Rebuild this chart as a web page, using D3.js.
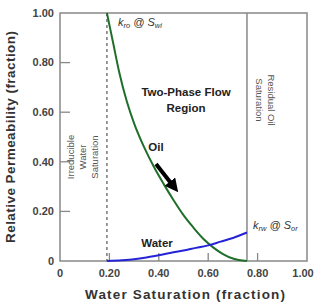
<!DOCTYPE html>
<html><head><meta charset="utf-8">
<script src="https://cdn.jsdelivr.net/npm/d3@7"></script>
<style>body{margin:0;background:#fff}svg{display:block;font-family:"Liberation Sans",Arial,sans-serif}</style>
</head><body>
<script>
const oilSw = [0.19,0.215,0.24,0.27,0.30,0.34,0.38,0.42,0.46,0.50,0.54,0.58,0.62,0.66,0.70,0.757];
const oilKr = [1.0,0.88,0.76,0.645,0.555,0.46,0.38,0.31,0.245,0.185,0.135,0.09,0.055,0.028,0.01,0];
const waterSw = [0.19,0.25,0.30,0.35,0.40,0.45,0.50,0.55,0.60,0.65,0.70,0.757];
const waterKr = [0,0.003,0.007,0.014,0.023,0.033,0.042,0.053,0.063,0.078,0.093,0.115];
const xTicks = [0,0.2,0.4,0.6,0.8,1.0];
const xTickLabels = ["0","0.20","0.40","0.60","0.80","1.00"];
const yTicks = [0,0.2,0.4,0.6,0.8,1.0];
const yTickLabels = ["0","0.20","0.40","0.60","0.80","1.00"];
const swi = 0.19, sor = 0.757;

const W=318,H=304;
const svg=d3.select("body").append("svg").attr("width",W).attr("height",H);
const x=d3.scaleLinear().domain([0,1]).range([60,307]);
const y=d3.scaleLinear().domain([0,1]).range([261,13]);
const gray="#888", txt="#444";

// frame
svg.append("rect").attr("x",x(0)).attr("y",y(1)).attr("width",x(1)-x(0)).attr("height",y(0)-y(1))
  .attr("fill","none").attr("stroke",gray).attr("stroke-width",1.5);

// y ticks inside
yTicks.forEach((t,i)=>{
  if(t>0&&t<1) svg.append("line").attr("x1",x(0)).attr("x2",x(0)+10).attr("y1",y(t)).attr("y2",y(t)).attr("stroke",gray).attr("stroke-width",1.3);
  svg.append("text").attr("x",54).attr("y",y(t)).attr("dy","0.35em").attr("text-anchor","end")
    .attr("font-size",11).attr("font-weight","bold").attr("fill",txt).text(yTickLabels[i]);
});
// x ticks inside
xTicks.forEach((t,i)=>{
  if(t>0&&t<1) svg.append("line").attr("x1",x(t)).attr("x2",x(t)).attr("y1",y(0)).attr("y2",y(0)-8).attr("stroke",gray).attr("stroke-width",1.3);
  svg.append("text").attr("x",x(t)-(t==1?4:0)).attr("y",277).attr("text-anchor","middle")
    .attr("font-size",11).attr("font-weight","bold").attr("fill",txt).text(xTickLabels[i]);
});

// axis titles
svg.append("text").attr("x",185).attr("y",299).attr("text-anchor","middle").attr("font-size",13.5)
  .attr("font-weight","bold").attr("fill","#333").attr("textLength",200).attr("lengthAdjust","spacing")
  .text("Water Saturation (fraction)");
svg.append("text").attr("transform","translate(15,137) rotate(-90)").attr("text-anchor","middle").attr("font-size",13.5)
  .attr("font-weight","bold").attr("fill","#333").attr("textLength",212).attr("lengthAdjust","spacing")
  .text("Relative Permeability (fraction)");

// swi dashed, sor solid
svg.append("line").attr("x1",x(swi)).attr("x2",x(swi)).attr("y1",y(1)).attr("y2",y(0))
  .attr("stroke","#555").attr("stroke-width",1.2).attr("stroke-dasharray","3,3");
svg.append("line").attr("x1",x(sor)).attr("x2",x(sor)).attr("y1",y(1)).attr("y2",y(0))
  .attr("stroke",gray).attr("stroke-width",1.5);

// curves
const line=d3.line().x(d=>x(d[0])).y(d=>y(d[1])).curve(d3.curveMonotoneX);
svg.append("path").attr("d",line(oilSw.map((s,i)=>[s,oilKr[i]]))).attr("fill","none")
  .attr("stroke","#1f6f2a").attr("stroke-width",2);
svg.append("path").attr("d",line(waterSw.map((s,i)=>[s,waterKr[i]]))).attr("fill","none")
  .attr("stroke","#2424d6").attr("stroke-width",2);

// annotations
function sub(t, main, s, px, py){
  const te=svg.append("text").attr("x",px).attr("y",py).attr("font-size",11).attr("font-style","italic").attr("fill","#333");
  te.append("tspan").text(main);
  te.append("tspan").attr("font-size",7.5).attr("dy",2).text(t);
  te.append("tspan").attr("dy",-2).text(" @ ");
  te.append("tspan").text("S");
  te.append("tspan").attr("font-size",7.5).attr("dy",2).text(s);
}
sub("ro","k","wi",118,26);
sub("rw","k","or",253,229);

const bold=(t,px,py)=>svg.append("text").attr("x",px).attr("y",py).attr("text-anchor","middle").attr("font-size",11.5)
  .attr("font-weight","bold").attr("fill","#222").text(t);
bold("Two-Phase Flow",186,96);
bold("Region",186,112);
bold("Oil",156,151);
bold("Water",157,247);

// arrow
svg.append("defs").append("marker").attr("id","ah").attr("viewBox","0 0 10 10").attr("refX",5).attr("refY",5)
  .attr("markerWidth",3.4).attr("markerHeight",3.4).attr("orient","auto")
  .append("path").attr("d","M0,0L10,5L0,10Z").attr("fill","#000");
svg.append("line").attr("x1",156).attr("y1",164).attr("x2",174).attr("y2",187)
  .attr("stroke","#000").attr("stroke-width",4).attr("marker-end","url(#ah)");

// vertical texts
const irr=["Irreducible","Water","Saturation"];
irr.forEach((t,i)=>{
  svg.append("text").attr("transform",`translate(${74+i*12},157) rotate(-90)`).attr("text-anchor","middle")
    .attr("font-size",9.5).attr("fill","#555").text(t);
});
const res=["Residual Oil","Saturation"];
res.forEach((t,i)=>{
  svg.append("text").attr("transform",`translate(${268-i*12},100) rotate(90)`).attr("text-anchor","middle")
    .attr("font-size",9.5).attr("fill","#555").text(t);
});
</script>
</body></html>
